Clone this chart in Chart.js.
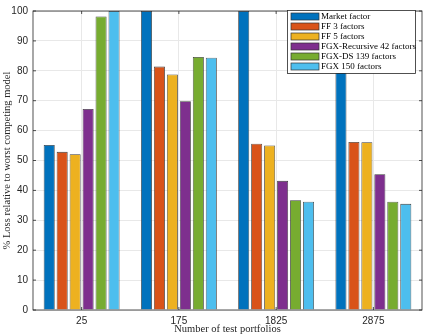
<!DOCTYPE html>
<html>
<head>
<meta charset="utf-8">
<script src="https://cdn.jsdelivr.net/npm/chart.js@4/dist/chart.umd.min.js"></script>
<style>
  html, body { margin: 0; padding: 0; background: #fff; }
  #wrap { width: 423px; height: 336px; }
</style>
</head>
<body>
<div id="wrap"><canvas id="chart" width="423" height="336"></canvas></div>
<script>
// test portfolio counts on the x axis
const portfolios = ['25', '175', '1825', '2875'];

// % loss relative to worst competing model, one array per model
const marketFactor = [55.2, 100, 100, 100];
const ff3 = [52.9, 81.4, 55.6, 56.2];
const ff5 = [52.1, 78.8, 55.0, 56.1];
const fgxRecursive42 = [67.2, 69.8, 43.2, 45.4];
const fgxDs139 = [98.2, 84.6, 36.7, 36.2];
const fgx150 = [100, 84.4, 36.2, 35.5];

const seriesNames = ['Market factor', 'FF 3 factors', 'FF 5 factors',
  'FGX-Recursive 42 factors', 'FGX-DS 139 factors', 'FGX 150 factors'];
const seriesColors = ['#0072BD', '#D95319', '#EDB120', '#7E2F8E', '#77AC30', '#4DBEEE'];
const seriesValues = [marketFactor, ff3, ff5, fgxRecursive42, fgxDs139, fgx150];

const serif = '"Liberation Serif", "DejaVu Serif", serif';
const sans = '"Liberation Sans", Arial, sans-serif';

// legend box drawn inside plot area (top right), matlab style
const insideLegend = {
    id: 'insideLegend',
    afterDraw(chart) {
        const ctx = chart.ctx;
        const x0 = 287, y0 = 10, w = 128, h = 63;
        ctx.save();
        ctx.fillStyle = '#fff';
        ctx.fillRect(x0, y0, w, h);
        ctx.strokeStyle = '#262626';
        ctx.lineWidth = 0.8;
        ctx.strokeRect(x0 + 0.5, y0 + 0.5, w, h);
        ctx.font = '9px ' + serif;
        ctx.textBaseline = 'middle';
        chart.data.datasets.forEach((ds, i) => {
            const cy = y0 + 6.5 + i * 10;
            ctx.fillStyle = ds.backgroundColor;
            ctx.fillRect(x0 + 4, cy - 3.5, 28, 7);
            ctx.strokeStyle = '#333';
            ctx.lineWidth = 0.7;
            ctx.strokeRect(x0 + 4, cy - 3.5, 28, 7);
            ctx.fillStyle = '#000';
            ctx.fillText(ds.label, x0 + 34, cy + 0.5);
        });
        ctx.restore();
    }
};

// box around the axes with inward ticks
const axesBox = {
    id: 'axesBox',
    afterDatasetsDraw(chart) {
        const a = chart.chartArea;
        const ctx = chart.ctx;
        ctx.save();
        ctx.strokeStyle = '#262626';
        ctx.lineWidth = 0.8;
        ctx.strokeRect(a.left, a.top, a.right - a.left, a.bottom - a.top);
        const y = chart.scales.y;
        y.ticks.forEach(t => {
            const py = y.getPixelForValue(t.value);
            ctx.beginPath();
            ctx.moveTo(a.left, py); ctx.lineTo(a.left + 3, py);
            ctx.moveTo(a.right, py); ctx.lineTo(a.right - 3, py);
            ctx.stroke();
        });
        const x = chart.scales.x;
        portfolios.forEach((p, i) => {
            const px = x.getPixelForValue(i);
            ctx.beginPath();
            ctx.moveTo(px, a.bottom); ctx.lineTo(px, a.bottom - 3);
            ctx.moveTo(px, a.top); ctx.lineTo(px, a.top + 3);
            ctx.stroke();
        });
        ctx.restore();
    }
};

new Chart(document.getElementById('chart').getContext('2d'), {
    type: 'bar',
    data: {
        labels: portfolios,
        datasets: seriesNames.map((name, i) => ({
            label: name,
            data: seriesValues[i],
            backgroundColor: seriesColors[i],
            borderColor: '#3a3a3a',
            borderWidth: 0.8,
            categoryPercentage: 0.8,
            barPercentage: 0.85
        }))
    },
    options: {
        responsive: false,
        animation: false,
        layout: { padding: { top: 3, right: 1, left: 0, bottom: 0 } },
        plugins: {
            legend: { display: false },
            tooltip: { enabled: false }
        },
        scales: {
            x: {
                grid: { offset: false, color: '#e8e8e8', drawTicks: false },
                border: { display: false },
                ticks: { font: { family: sans, size: 10 }, color: '#262626', padding: 5 },
                title: {
                    display: true, text: 'Number of test portfolios',
                    font: { family: serif, size: 10.5 }, color: '#262626', padding: { top: 0, bottom: 0 }
                },
                afterFit: s => { s.height = 26; }
            },
            y: {
                min: 0, max: 100,
                grid: { color: '#e8e8e8', drawTicks: false },
                border: { display: false },
                ticks: { stepSize: 10, font: { family: sans, size: 10 }, color: '#262626', padding: 5 },
                title: {
                    display: true, text: '% Loss relative to worst competing model',
                    font: { family: serif, size: 10.5 }, color: '#262626', padding: { top: 1, bottom: 2 }
                },
                afterFit: s => { s.width = 33; }
            }
        }
    },
    plugins: [axesBox, insideLegend]
});
</script>
</body>
</html>
